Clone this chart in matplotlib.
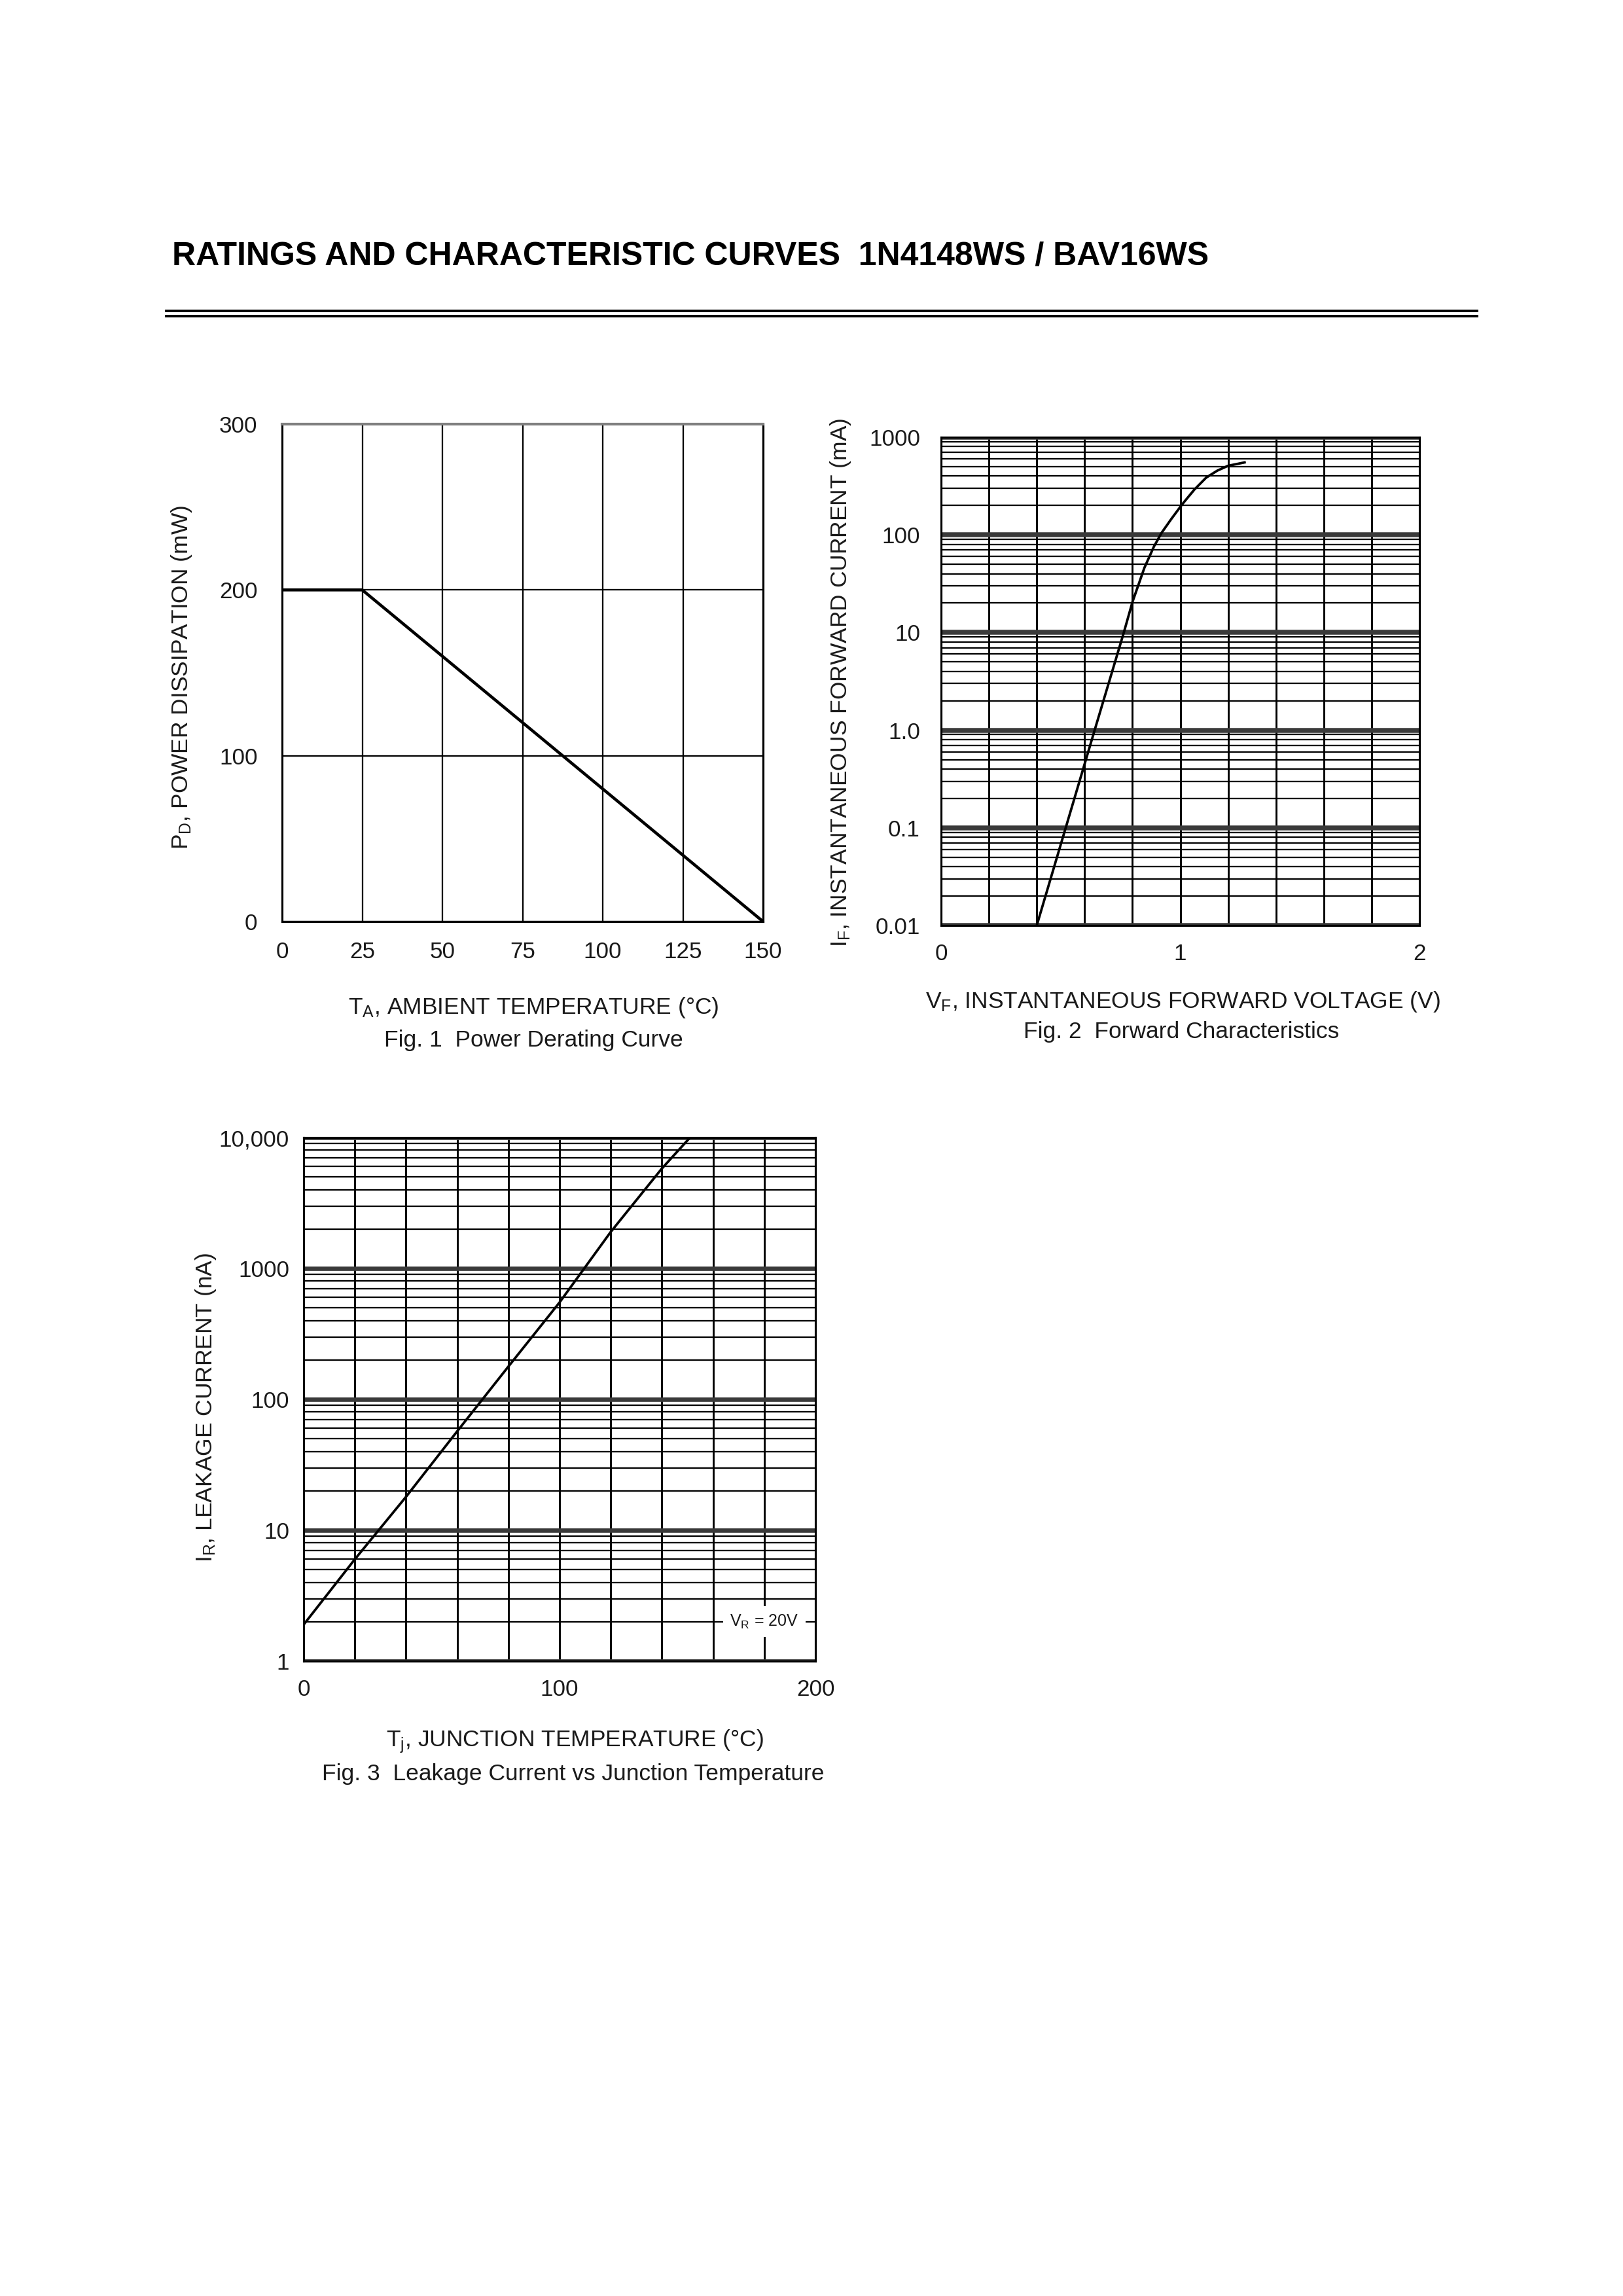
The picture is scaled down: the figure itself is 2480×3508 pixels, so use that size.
import matplotlib
matplotlib.use('Agg')
import matplotlib.pyplot as plt
from matplotlib.lines import Line2D
from matplotlib.ticker import MultipleLocator, LogLocator, NullFormatter

plt.rcParams['font.family'] = ['Liberation Sans', 'DejaVu Sans']
plt.rcParams['mathtext.fontset'] = 'custom'
plt.rcParams['mathtext.rm'] = 'Liberation Sans'
plt.rcParams['mathtext.it'] = 'Liberation Sans'
plt.rcParams['text.color'] = '#1a1a1a'

W, H = 2480, 3508   # page size in pixels
TXT = '#1a1a1a'

# ---- Fig. 1 power derating ----
ta_c = [0, 25, 150]
pd_mw = [200, 200, 0]
ta_ticks = [0, 25, 50, 75, 100, 125, 150]
pd_ticks = [0, 100, 200, 300]

# ---- Fig. 2 forward characteristics ----
vf_v = [0.40, 0.521, 0.642, 0.764, 0.80, 0.85, 0.89, 0.922, 0.963,
        1.009, 1.059, 1.108, 1.155, 1.20, 1.269]
if_ma = [0.01, 0.1, 1.0, 10, 20.5, 46, 76, 105, 146,
         207, 291, 385, 455, 510, 552]
if_ticks = [0.01, 0.1, 1, 10, 100, 1000]
if_labels = ['0.01', '0.1', '1.0', '10', '100', '1000']
vf_ticks = [0, 1, 2]

# ---- Fig. 3 leakage current ----
tj_c = [0, 20, 40, 60, 80, 100, 120, 140, 151]
ir_na = [1.9, 6.0, 18, 57, 178, 550, 1900, 5800, 10000]
ir_ticks = [1, 10, 100, 1000, 10000]
ir_labels = ['1', '10', '100', '1000', '10,000']
tj_ticks = [0, 100, 200]
vr_note = r'V$_\mathregular{R}$ = 20V'


def box(l, t, r, b):
    # pixel box -> figure fraction rect
    return [l / W, 1 - b / H, (r - l) / W, (b - t) / H]


def ftext(x, y, s, **kw):
    fig.text(x / W, 1 - y / H, s, **kw)


def style(ax, xpad, ypad):
    ax.tick_params(which='both', length=0, labelsize=8.4, colors=TXT)
    ax.tick_params(axis='x', pad=xpad)
    ax.tick_params(axis='y', pad=ypad)
    for sp in ax.spines.values():
        sp.set_linewidth(0.75)
        sp.set_color('black')


fig = plt.figure(figsize=(W / 300, H / 300), dpi=300)

# header
ftext(263, 405, 'RATINGS AND CHARACTERISTIC CURVES  1N4148WS / BAV16WS',
      fontsize=12, fontweight='bold', color='black', va='baseline')
for yy in (475, 482.5):
    fig.add_artist(Line2D([254 / W, 2257 / W], [1 - yy / H] * 2,
                          transform=fig.transFigure, color='black', lw=0.9))

# Fig. 1
ax1 = fig.add_axes(box(431, 648, 1166, 1408))
ax1.plot(ta_c, pd_mw, color='black', lw=1.1, zorder=3)
ax1.set_xlim(0, 150)
ax1.set_ylim(0, 300)
ax1.set_xticks(ta_ticks)
ax1.set_yticks(pd_ticks)
ax1.grid(True, color='black', lw=0.55)
style(ax1, 7.2, 9)
ax1.spines['top'].set_color('#808080')
ax1.spines['top'].set_linewidth(1.0)
ftext(277, 1035, r'P$_\mathregular{D}$, POWER DISSIPATION (mW)', fontsize=8.5,
      rotation=90, ha='center', va='center')
ftext(815, 1549, r'T$_\mathregular{A}$, AMBIENT TEMPERATURE (°C)', fontsize=8.5,
      ha='center', va='baseline')
ftext(815, 1599, 'Fig. 1  Power Derating Curve', fontsize=8.5,
      ha='center', va='baseline')

# Fig. 2
ax2 = fig.add_axes(box(1438, 668, 2169, 1414))
ax2.set_yscale('log')
ax2.plot(vf_v, if_ma, color='black', lw=0.9, zorder=3,
         solid_joinstyle='round')
ax2.set_xlim(0, 2)
ax2.set_ylim(0.01, 1000)
ax2.set_xticks(vf_ticks)
ax2.xaxis.set_minor_locator(MultipleLocator(0.2))
ax2.set_yticks(if_ticks, labels=if_labels)
ax2.yaxis.set_minor_locator(LogLocator(base=10, subs=range(2, 10)))
ax2.yaxis.set_minor_formatter(NullFormatter())
ax2.grid(True, which='both', axis='x', color='black', lw=0.7)
ax2.grid(True, which='major', axis='y', color='#3a3a3a', lw=1.8)
ax2.grid(True, which='minor', axis='y', color='black', lw=0.55)
style(ax2, 6.5, 7.7)
ftext(1284, 1043, r'I$_\mathregular{F}$, INSTANTANEOUS FORWARD CURRENT (mA)',
      fontsize=8.5, rotation=90, ha='center', va='center')
ftext(1807, 1540, r'V$_\mathregular{F}$, INSTANTANEOUS FORWARD VOLTAGE (V)',
      fontsize=8.5, ha='center', va='baseline')
ftext(1805, 1586, 'Fig. 2  Forward Characteristics', fontsize=8.5,
      ha='center', va='baseline')

# Fig. 3
ax3 = fig.add_axes(box(464, 1738, 1246, 2538))
ax3.set_yscale('log')
ax3.plot(tj_c, ir_na, color='black', lw=0.9, zorder=3)
ax3.set_xlim(0, 200)
ax3.set_ylim(1, 10000)
ax3.set_xticks(tj_ticks)
ax3.xaxis.set_minor_locator(MultipleLocator(20))
ax3.set_yticks(ir_ticks, labels=ir_labels)
ax3.yaxis.set_minor_locator(LogLocator(base=10, subs=range(2, 10)))
ax3.yaxis.set_minor_formatter(NullFormatter())
ax3.grid(True, which='both', axis='x', color='black', lw=0.7)
ax3.grid(True, which='major', axis='y', color='#3a3a3a', lw=1.6)
ax3.grid(True, which='minor', axis='y', color='black', lw=0.55)
style(ax3, 6.5, 5.3)
ax3.text(180, 2, vr_note, fontsize=6, ha='center', va='center', zorder=4,
         bbox=dict(facecolor='white', edgecolor='none', pad=2.5))
ftext(314, 2150, r'I$_\mathregular{R}$, LEAKAGE CURRENT (nA)', fontsize=8.5,
      rotation=90, ha='center', va='center')
ftext(878, 2668, r'T$_\mathregular{j}$, JUNCTION TEMPERATURE (°C)', fontsize=8.5,
      ha='center', va='baseline')
ftext(876, 2720, 'Fig. 3  Leakage Current vs Junction Temperature', fontsize=8.5,
      ha='center', va='baseline')

fig.savefig('out.png', dpi=300, facecolor='white')
